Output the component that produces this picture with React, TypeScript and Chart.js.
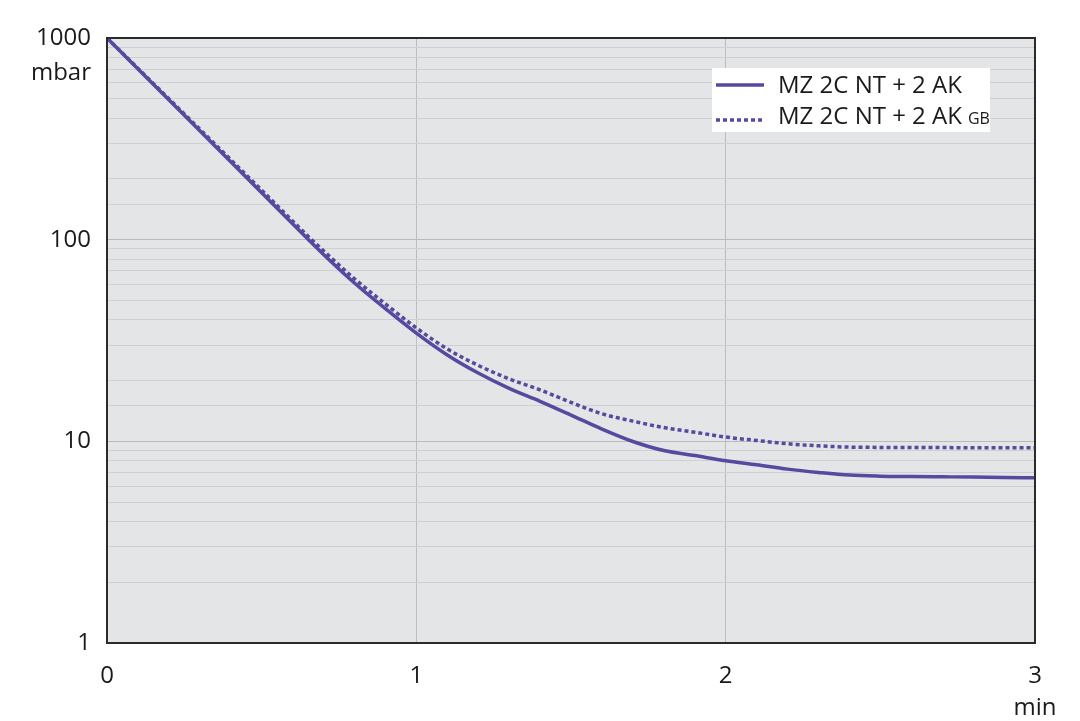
import { useEffect, useRef } from "react";
import { Chart, registerables } from "chart.js";
Chart.register(...registerables);

// time in minutes
const timeMin = [0, 0.25, 0.5, 0.65, 0.7, 0.8, 0.9, 1.0, 1.1, 1.2, 1.3, 1.4, 1.5, 1.6, 1.7, 1.8, 1.9, 2.0, 2.1, 2.2, 2.3, 2.4, 2.5, 2.6, 2.7, 2.8, 2.9, 3.0];
// pressure in mbar
const solidMbar = [1000, 414, 171, 100.5, 84.5, 61, 45.5, 34.4, 26.8, 21.8, 18.3, 15.8, 13.5, 11.5, 9.98, 9.0, 8.5, 8.02, 7.65, 7.28, 7.01, 6.8, 6.72, 6.69, 6.67, 6.65, 6.62, 6.6];
const dottedMbar = [1000, 420, 176, 104, 88, 64, 48, 36.5, 28.7, 23.8, 20.4, 18.0, 15.6, 13.7, 12.6, 11.7, 11.1, 10.5, 10.1, 9.73, 9.5, 9.36, 9.33, 9.32, 9.31, 9.3, 9.3, 9.3];

const seriesLabels = ["MZ 2C NT + 2 AK", "MZ 2C NT + 2 AK"];
const seriesSuffix = ["", "GB"];
const yTickLabels = [1, 10, 100, 1000];
const xTickLabels = [0, 1, 2, 3];
const yUnit = "mbar";
const xUnit = "min";

const lineColor = "#5549a0";
const fontFamily = "'Open Sans', sans-serif";
const textColor = "#1a1a1a";

const decor = {
  id: "decor",
  beforeDraw(chart: any) {
    const { ctx, chartArea: a } = chart;
    ctx.save();
    ctx.fillStyle = "#e4e5e7";
    ctx.fillRect(a.left, a.top, a.right - a.left, a.bottom - a.top);
    ctx.restore();
  },
  afterDatasetsDraw(chart: any) {
    const { ctx, chartArea: a } = chart;
    ctx.save();
    // frame
    ctx.strokeStyle = "#2b2b2b";
    ctx.lineWidth = 2;
    ctx.strokeRect(a.left, a.top, a.right - a.left, a.bottom - a.top);
    // y unit
    ctx.fillStyle = textColor;
    ctx.font = `24px ${fontFamily}`;
    ctx.textAlign = "right";
    ctx.textBaseline = "middle";
    ctx.fillText(yUnit, a.left - 16, 73);
    // legend
    const bx = 712, by = 68, bw = 278, bh = 64;
    ctx.fillStyle = "#ffffff";
    ctx.fillRect(bx, by, bw, bh);
    const lineRows = [85, 120];
    const textRows = [93, 124];
    chart.data.datasets.forEach((ds: any, i: number) => {
      const y = lineRows[i];
      ctx.beginPath();
      ctx.strokeStyle = ds.borderColor;
      ctx.lineWidth = ds.borderWidth;
      ctx.setLineDash(ds.borderDash || []);
      ctx.lineCap = "butt";
      ctx.moveTo(716, y);
      ctx.lineTo(764, y);
      ctx.stroke();
      ctx.setLineDash([]);
      ctx.fillStyle = textColor;
      ctx.textAlign = "left";
      ctx.textBaseline = "alphabetic";
      ctx.font = `24px ${fontFamily}`;
      ctx.fillText(seriesLabels[i], 778, textRows[i]);
      const w = ctx.measureText(seriesLabels[i]).width;
      if (seriesSuffix[i]) {
        ctx.font = `16px ${fontFamily}`;
        ctx.fillText(seriesSuffix[i], 778 + w + 6, textRows[i]);
      }
    });
    ctx.restore();
  },
};

export default function App() {
  const ref = useRef<HTMLCanvasElement>(null);
  useEffect(() => {
    if (!ref.current) return;
    const chart = new Chart(ref.current, {
      type: "line",
      data: {
        datasets: [
          {
            label: seriesLabels[0],
            data: timeMin.map((t, i) => ({ x: t, y: solidMbar[i] })),
            borderColor: lineColor,
            borderWidth: 3.5,
            pointRadius: 0,
            cubicInterpolationMode: "monotone",
            fill: false,
          },
          {
            label: seriesLabels[1] + " " + seriesSuffix[1],
            data: timeMin.map((t, i) => ({ x: t, y: dottedMbar[i] })),
            borderColor: lineColor,
            borderWidth: 3.5,
            borderDash: [4, 3],
            borderCapStyle: "butt",
            pointRadius: 0,
            cubicInterpolationMode: "monotone",
            fill: false,
          },
        ],
      },
      options: {
        animation: false,
        responsive: true,
        maintainAspectRatio: false,
        layout: { padding: { top: 38, right: 45, left: 0, bottom: 0 } },
        plugins: { legend: { display: false }, tooltip: { enabled: false } },
        scales: {
          x: {
            type: "linear",
            min: 0,
            max: 3,
            afterBuildTicks: (s: any) => {
              s.ticks = xTickLabels.map((v) => ({ value: v }));
            },
            ticks: {
              callback: (v: any) => (Number(v) === 3 ? [String(v), xUnit] : String(v)),
              font: { family: fontFamily, size: 24, lineHeight: 1.35 },
              color: textColor,
              padding: 17,
              maxRotation: 0,
              autoSkip: false,
            },
            grid: { color: "#bcbdc0", lineWidth: 1, drawTicks: false },
            border: { display: false },
            afterFit: (s: any) => {
              s.height = 78;
            },
          },
          y: {
            type: "logarithmic",
            min: 1,
            max: 1000,
            ticks: {
              autoSkip: false,
              callback: (v: any) => (yTickLabels.includes(Number(v)) ? String(v) : ""),
              font: { family: fontFamily, size: 24 },
              color: textColor,
              padding: 16,
            },
            grid: {
              color: (c: any) => (c.tick && c.tick.major ? "#b9babd" : "#cfd0d3"),
              lineWidth: 1,
              drawTicks: false,
            },
            border: { display: false },
            afterFit: (s: any) => {
              s.width = 107;
            },
          },
        },
      },
      plugins: [decor],
    } as any);
    return () => chart.destroy();
  }, []);
  return (
    <div style={{ position: "fixed", left: 0, top: 0, width: 1080, height: 721, background: "#ffffff" }}>
      <canvas ref={ref} />
    </div>
  );
}
